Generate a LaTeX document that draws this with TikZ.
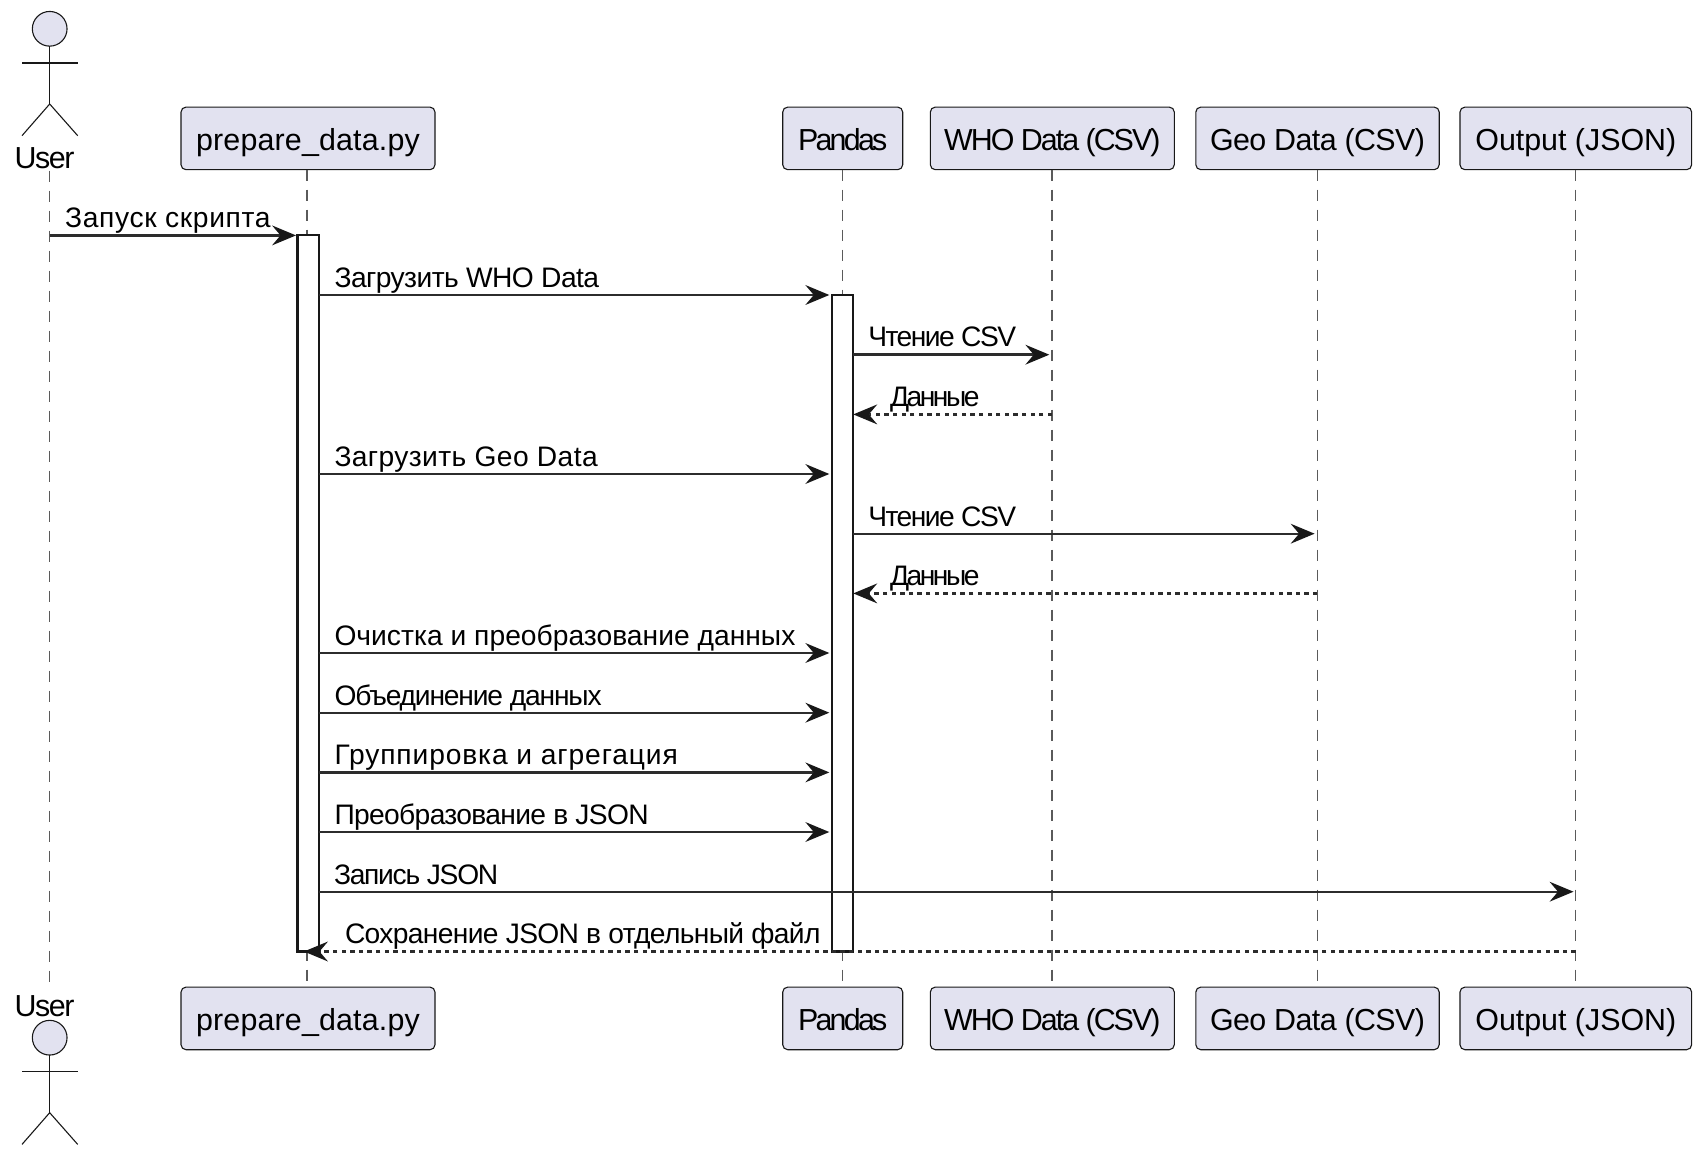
\documentclass[tikz,border=0pt]{standalone}
\usepackage{fontspec}
\setmainfont{Liberation Sans}
\usetikzlibrary{arrows.meta}
\definecolor{ink}{HTML}{181818}
\definecolor{shaft}{HTML}{2C2C2C}
\definecolor{dashgray}{HTML}{5A5A5A}
\definecolor{boxfill}{HTML}{E2E2F0}
% set text to a target width (px) with n characters by letter spacing
\newbox\fitbox
\newdimen\fitem
\newcommand\fit[3]{{\setbox\fitbox\hbox{#3}\fitem=\fontdimen6\font\relax
  \pgfmathsetmacro\fitls{100*(#1-\the\wd\fitbox)/(#2-1)/\the\fitem}%
  \addfontfeature{LetterSpace=\fitls}#3}}
\tikzset{
  part/.style={draw=ink,fill=boxfill,line width=1.1pt,rounded corners=5pt,inner sep=0pt,outer sep=0pt,
    minimum height=62.6pt,text height=28pt,text depth=3.8pt,align=center,font=\fontsize{30.4}{32}\selectfont},
  actorlabel/.style={inner sep=0pt,outer sep=0pt,anchor=base,font=\fontsize{30.4}{32}\selectfont},
  head/.style={circle,draw=ink,fill=boxfill,line width=1.1pt,minimum size=34.7pt,inner sep=0pt,outer sep=0pt},
  limb/.style={draw=ink,line width=1.1pt},
  lifeline/.style={draw=dashgray,line width=1.3pt,dash pattern=on 11pt off 9pt},
  act/.style={draw=ink,fill=white,line width=2.2pt,inner sep=0pt,outer sep=0pt},
  msg/.style={draw=shaft,line width=2.4pt,-{Stealth[length=24pt,width=20pt,inset=8.5pt,line width=0pt,color=ink]}},
  ret/.style={msg,dash pattern=on 4.3pt off 4.3pt},
  mlabel/.style={inner sep=0pt,outer sep=0pt,anchor=base west,font=\fontsize{28.2}{30}\selectfont},
}
\begin{document}
\begin{tikzpicture}[x=1pt,y=-1pt]
\useasboundingbox (0,0) rectangle (1701,1158);
% lifeline positions
\coordinate (LU) at (49.7,0);
\coordinate (LP) at (307,0);
\coordinate (LD) at (842.7,0);
\coordinate (LW) at (1052,0);
\coordinate (LG) at (1317.3,0);
\coordinate (LO) at (1575.7,0);
% message rows
\coordinate (m1) at (0,235.4);
\coordinate (m2) at (0,295);
\coordinate (m3) at (0,354.7);
\coordinate (m4) at (0,414.4);
\coordinate (m5) at (0,474);
\coordinate (m6) at (0,533.7);
\coordinate (m7) at (0,593.4);
\coordinate (m8) at (0,653);
\coordinate (m9) at (0,712.7);
\coordinate (m10) at (0,772.4);
\coordinate (m11) at (0,832);
\coordinate (m12) at (0,891.7);
\coordinate (m13) at (0,951.5);
% ends of the user's lifeline
\coordinate (Utop) at (49.7,170.7);
\coordinate (Ubot) at (49.7,990);
% participants
\node[part,minimum width=254pt] (prep) at (308,138.4) {\fit{223.7}{15}{prepare\_data.py}};
\node[part,minimum width=120pt] (pand) at (842.7,138.4) {\fit{89.4}{6}{Pandas}};
\node[part,minimum width=244pt] (who) at (1052.3,138.4) {\fit{212.3}{14}{WHO Data (CSV)}};
\node[part,minimum width=243.4pt] (geo) at (1317.5,138.4) {\fit{213.7}{14}{Geo Data (CSV)}};
\node[part,minimum width=231.7pt] (out) at (1575.8,138.4) {\fit{200.9}{13}{Output (JSON)}};
\node[part,minimum width=254pt] (prepB) at (308,1018.4) {\fit{223.7}{15}{prepare\_data.py}};
\node[part,minimum width=120pt] (pandB) at (842.7,1018.4) {\fit{89.4}{6}{Pandas}};
\node[part,minimum width=244pt] (whoB) at (1052.3,1018.4) {\fit{212.3}{14}{WHO Data (CSV)}};
\node[part,minimum width=243.4pt] (geoB) at (1317.5,1018.4) {\fit{213.7}{14}{Geo Data (CSV)}};
\node[part,minimum width=231.7pt] (outB) at (1575.8,1018.4) {\fit{200.9}{13}{Output (JSON)}};
% lifelines
\draw[lifeline] (Utop) -- (Ubot);
\draw[lifeline] (LP |- prep.south) -- (LP |- prepB.north);
\draw[lifeline] (LD |- pand.south) -- (LD |- pandB.north);
\draw[lifeline] (LW |- who.south) -- (LW |- whoB.north);
\draw[lifeline] (LG |- geo.south) -- (LG |- geoB.north);
\draw[lifeline] (LO |- out.south) -- (LO |- outB.north);
% actor, top
\node[head] (uhead) at (49.7,28.8) {};
\coordinate (uarmL) at (22,63);
\coordinate (uarmR) at (77.7,63);
\coordinate (uhip) at (49.7,104);
\coordinate (ufootL) at (22,135.7);
\coordinate (ufootR) at (77.7,135.7);
\draw[limb] (uhead.south) -- (uhip);
\draw[limb] (uarmL) -- (uarmR);
\draw[limb] (ufootL) -- (uhip) -- (ufootR);
\node[actorlabel] (ulabel) at (44.5,168.2) {\fit{60}{4}{User}};
% actor, bottom
\node[actorlabel] (ulabelB) at (44.5,1016) {\fit{60}{4}{User}};
\node[head] (uheadB) at (49.7,1037.7) {};
\coordinate (barmL) at (22,1071.7);
\coordinate (barmR) at (77.7,1071.7);
\coordinate (bhip) at (49.7,1112.7);
\coordinate (bfootL) at (22,1144.4);
\coordinate (bfootR) at (77.7,1144.4);
\draw[limb] (uheadB.south) -- (bhip);
\draw[limb] (barmL) -- (barmR);
\draw[limb] (bfootL) -- (bhip) -- (bfootR);
% activations
\node[act,minimum width=21.7pt,minimum height=716.1pt] (actP) at (308.35,593.45) {};
\node[act,minimum width=21.6pt,minimum height=656.5pt] (actD) at (842.5,623.25) {};
% messages
\draw[msg,shorten >=1.5pt] (LU |- m1) -- (actP.west |- m1);
\draw[msg,shorten >=2.4pt] (actP.east |- m2) -- (actD.west |- m2);
\draw[msg,shorten >=2.7pt] (actD.east |- m3) -- (LW |- m3);
\draw[ret] (LW |- m4) -- (actD.east |- m4);
\draw[msg,shorten >=2.4pt] (actP.east |- m5) -- (actD.west |- m5);
\draw[msg,shorten >=2.7pt] (actD.east |- m6) -- (LG |- m6);
\draw[ret] (LG |- m7) -- (actD.east |- m7);
\draw[msg,shorten >=2.4pt] (actP.east |- m8) -- (actD.west |- m8);
\draw[msg,shorten >=2.4pt] (actP.east |- m9) -- (actD.west |- m9);
\draw[msg,shorten >=2.4pt] (actP.east |- m10) -- (actD.west |- m10);
\draw[msg,shorten >=2.4pt] (actP.east |- m11) -- (actD.west |- m11);
\draw[msg,shorten >=2.2pt] (actP.east |- m12) -- (LO |- m12);
\draw[ret,shorten >=-3pt] (LO |- m13) -- (LP |- m13);
% message labels
\node[mlabel] (t1) at (65.2,227.5) {\fit{206}{14}{Запуск скрипта}};
\node[mlabel] (t2) at (334.5,287.3) {\fit{263.5}{18}{Загрузить WHO Data}};
\node[mlabel] (t3) at (868.3,347) {\fit{146.4}{10}{Чтение CSV}};
\node[mlabel] (t4) at (890,406.7) {\fit{89.5}{6}{Данные}};
\node[mlabel] (t5) at (334.5,466.3) {\fit{264}{18}{Загрузить Geo Data}};
\node[mlabel] (t6) at (868.3,526) {\fit{146.4}{10}{Чтение CSV}};
\node[mlabel] (t7) at (890,585.7) {\fit{89.5}{6}{Данные}};
\node[mlabel] (t8) at (334.5,645.3) {\fit{461}{31}{Очистка и преобразование данных}};
\node[mlabel] (t9) at (334.5,705) {\fit{266}{18}{Объединение данных}};
\node[mlabel] (t10) at (334.5,764.7) {\fit{345}{23}{Группировка и агрегация}};
\node[mlabel] (t11) at (334.5,824.3) {\fit{313}{21}{Преобразование в JSON}};
\node[mlabel] (t12) at (334,884) {\fit{163}{11}{Запись JSON}};
\node[mlabel] (t13) at (345,943.7) {\fit{473}{32}{Сохранение JSON в отдельный файл}};
\end{tikzpicture}
\end{document}
